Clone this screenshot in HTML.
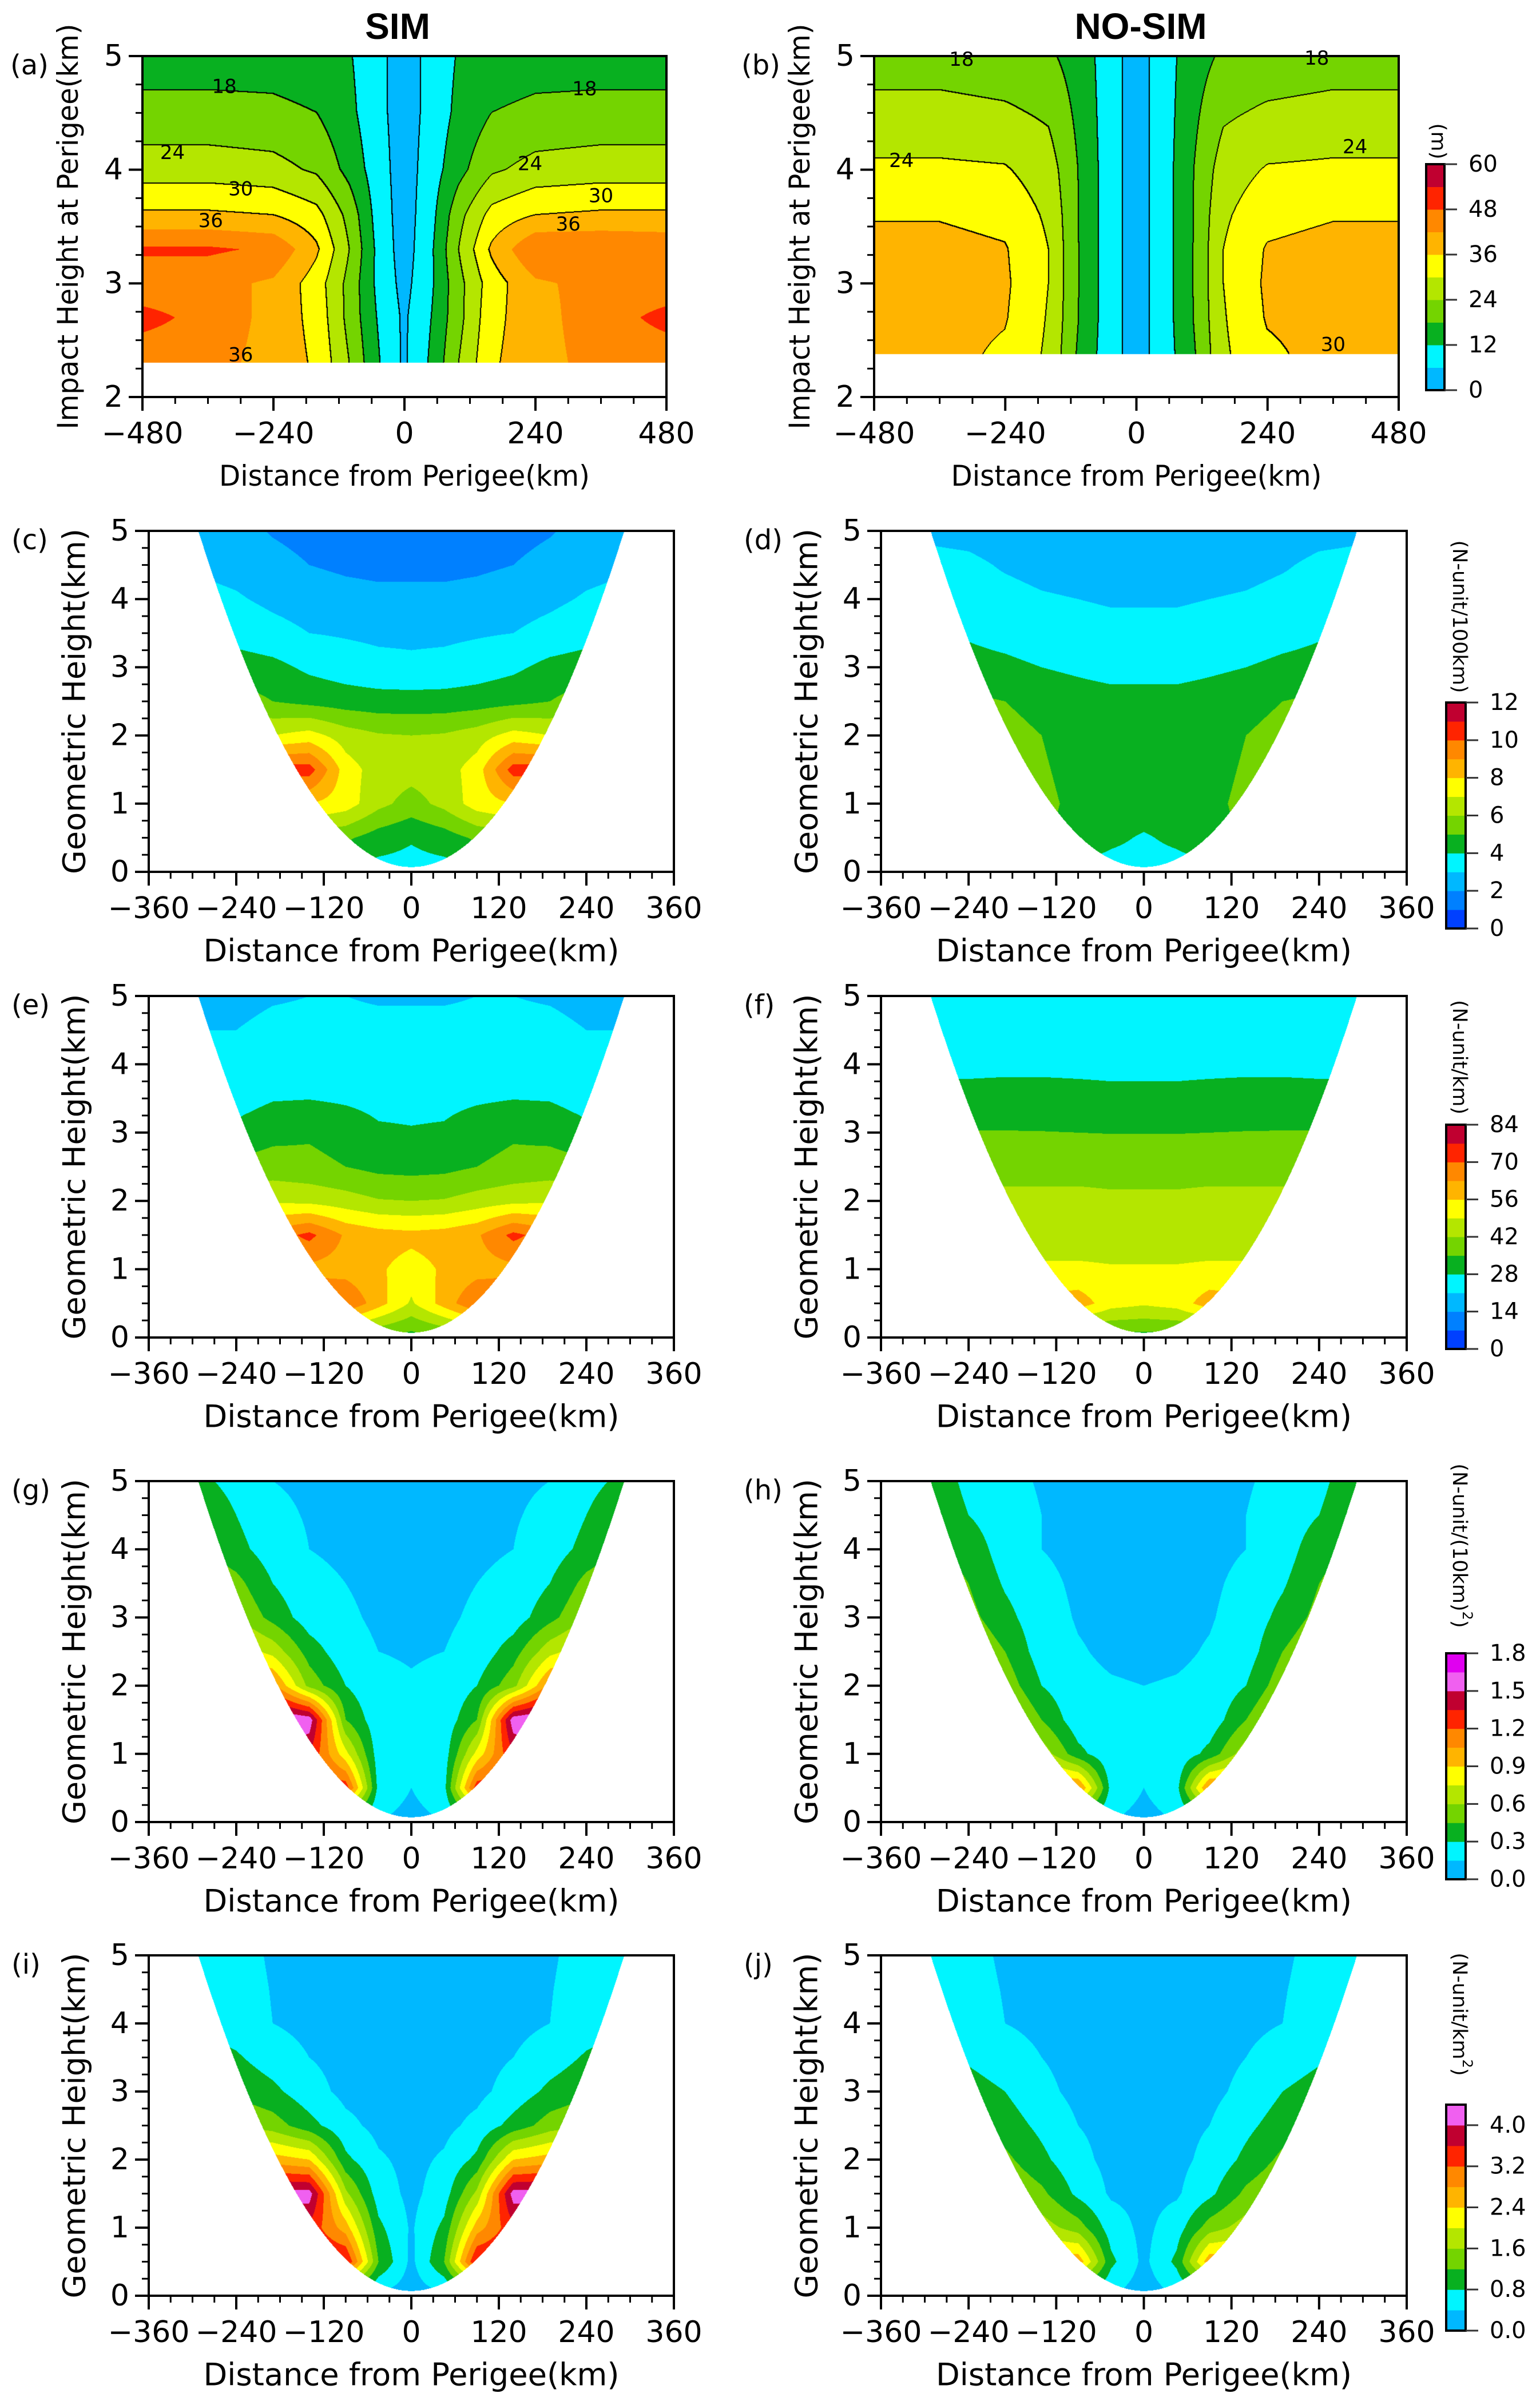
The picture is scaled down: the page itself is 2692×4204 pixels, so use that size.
<!DOCTYPE html>
<html><head><meta charset="utf-8">
<style>
html,body{margin:0;padding:0;background:#fff;}
#wrap{position:relative;width:2692px;height:4204px;overflow:hidden;background:#fff;}
canvas{position:absolute;}
svg{position:absolute;left:0;top:0;}
</style></head>
<body>
<div id="wrap">
<canvas id="cv-a"></canvas>
<canvas id="cv-b"></canvas>
<canvas id="cv-c"></canvas>
<canvas id="cv-d"></canvas>
<canvas id="cv-e"></canvas>
<canvas id="cv-f"></canvas>
<canvas id="cv-g"></canvas>
<canvas id="cv-h"></canvas>
<canvas id="cv-i"></canvas>
<canvas id="cv-j"></canvas>
<svg id="ov" width="2692" height="4204" xmlns="http://www.w3.org/2000/svg">
<text x="695" y="68" text-anchor="middle" font-family="Liberation Sans, sans-serif" font-weight="bold" font-size="64">SIM</text>
<text x="1994" y="68" text-anchor="middle" font-family="Liberation Sans, sans-serif" font-weight="bold" font-size="64">NO-SIM</text>
</svg>
</div>
<script>
// ---------- data (grid values) ----------
const xColsTop = [-480,-360,-240,-160,-100,-50,0,50,100,160,240,360,480];
const hRowsA = [5,4.5,4,3.6,3.3,3.0,2.7,2.3];
const hRowsB = [5,4.5,4,3.6,3.3,3.0,2.7,2.38];
const aField = [
 [15,15,15,14,12.5,8,3,8,12.5,14,15,15,15],
 [20,20,19.5,18,13.5,8,3,8,13.5,18,19.5,20,20],
 [27,27,26,23,16,9,3,9,16,23,26,27,27],
 [37,37,36,32,22,10,3,10,22,32,36,37,37],
 [49,49,47,37,24,11,3,11,24,37,48,48,47],
 [44,44,41,33,22,11,4,11,22,33,41,44,44],
 [50,46,40,34,22,12,5,12,22,34,40,45,50],
 [44,44,40,35,24,13,5,13,24,35,40,44,44]
];
const bField = [
 [21,21,20,19,15,9,3,9,15,19,20,21,21],
 [26,26,25,23,16,9,3,9,16,23,25,26,26],
 [31,31,30.5,27,17,9,3,9,17,27,30.5,31,31],
 [35.5,35.5,34,29,17,9,3,9,17,29,34,35.5,35.5],
 [38,38,36.5,30,17,9,3,9,17,30,36.5,38,38],
 [38,38,37,30,17,9,3,9,17,30,37,38,38],
 [38,38,36.5,29.5,17,9,3,9,17,29.5,36.5,38,38],
 [38,38,35,29,16,9,3,9,16,29,35,38,38]
];
const xColsGeo = [-300,-240,-190,-140,-90,-45,0,45,90,140,190,240,300];
const hRowsGeo = [5,4.5,4,3.5,3,2.5,2,1.5,1,0.5,0];
const cField = [
 [2.6,2.4,1.9,1.6,1.5,1.4,1.4,1.4,1.5,1.6,1.9,2.4,2.6],
 [2.9,2.7,2.4,2.0,1.8,1.7,1.7,1.7,1.8,2.0,2.4,2.7,2.9],
 [3.3,3.1,2.8,2.6,2.4,2.3,2.3,2.3,2.4,2.6,2.8,3.1,3.3],
 [3.8,3.6,3.3,3.0,2.9,2.8,2.8,2.8,2.9,3.0,3.3,3.6,3.8],
 [4.6,4.5,4.3,3.8,3.5,3.3,3.2,3.3,3.5,3.8,4.3,4.5,4.6],
 [5.6,5.5,5.0,4.7,4.5,4.4,4.4,4.4,4.5,4.7,5.0,5.5,5.6],
 [7.2,7.2,7.0,7.4,6.5,6.1,6.0,6.1,6.5,7.4,7.0,7.2,7.2],
 [10,10,10.5,10.5,7.5,6.5,6.4,6.5,7.5,10.5,10.5,10,10],
 [8.5,8.5,8.2,8.0,7.5,6.3,5.6,6.3,7.5,8.0,8.2,8.5,8.5],
 [6,6,5.8,5.5,5.2,4.5,4.1,4.5,5.2,5.5,5.8,6,6],
 [3.6,3.6,3.6,3.6,3.6,3.6,3.6,3.6,3.6,3.6,3.6,3.6,3.6]
];
const dField = [
 [2.8,2.7,2.5,2.4,2.3,2.2,2.2,2.2,2.3,2.4,2.5,2.7,2.8],
 [3.3,3.2,2.9,2.7,2.6,2.5,2.5,2.5,2.6,2.7,2.9,3.2,3.3],
 [3.5,3.4,3.3,3.1,3.0,2.9,2.9,2.9,3.0,3.1,3.3,3.4,3.5],
 [4.0,3.9,3.7,3.5,3.4,3.3,3.3,3.3,3.4,3.5,3.7,3.9,4.0],
 [4.4,4.3,4.2,4.0,3.8,3.6,3.6,3.6,3.8,4.0,4.2,4.3,4.4],
 [5.3,5.2,5.0,4.7,4.5,4.4,4.4,4.4,4.5,4.7,5.0,5.2,5.3],
 [5.4,5.4,5.3,5.0,4.6,4.5,4.5,4.5,4.6,5.0,5.3,5.4,5.4],
 [5.4,5.4,5.3,5.1,4.7,4.5,4.5,4.5,4.7,5.1,5.3,5.4,5.4],
 [5.4,5.4,5.3,5.2,4.8,4.5,4.5,4.5,4.8,5.2,5.3,5.4,5.4],
 [5.2,5.2,5.1,5.1,4.7,4.2,3.9,4.2,4.7,5.1,5.1,5.2,5.2],
 [3.6,3.6,3.6,3.6,3.6,3.6,3.6,3.6,3.6,3.6,3.6,3.6,3.6]
];
const eField = [
 [17,18,20,21,21,20,20,20,21,21,20,18,17],
 [21,21,23.5,23.5,23.5,23.5,23.5,23.5,23.5,23.5,23.5,21,21],
 [24,24,25,25,25,25,25,25,25,25,25,24,24],
 [25,25,27.5,27.8,27,26,26,26,27,27.8,27.5,25,25],
 [30,30,33,34,32,29,28.5,29,32,34,33,30,30],
 [37,37,38,37,35,33,32.5,33,35,37,38,37,37],
 [46,46,48,47,45,42.5,42,42.5,45,47,48,46,46],
 [66,66,66,72,62,59,58,59,62,72,66,66,66],
 [61,61,61,61,60,57,53,57,60,61,61,61,61],
 [70,70,70,70,70,59,48,59,70,70,70,70,70],
 [38,38,38,38,38,34,32,34,38,38,38,38,38]
];
const fField = [
 [23,23,23,23,23,23,23,23,23,23,23,23,23],
 [25,25,25,25,25,25,25,25,25,25,25,25,25],
 [26.5,26.5,26.5,26.5,26.5,26.5,26.5,26.5,26.5,26.5,26.5,26.5,26.5],
 [30,30,30.5,30.5,30,29.5,29.5,29.5,30,30.5,30.5,30,30],
 [35.3,35.3,35.3,35.2,35,34.8,34.8,34.8,35,35.2,35.3,35.3,35.3],
 [40,40,40,40,40,40,40,40,40,40,40,40,40],
 [43.5,43.5,43.5,43.5,43.5,43,43,43,43.5,43.5,43.5,43.5,43.5],
 [46,46,46,46,46,46,46,46,46,46,46,46,46],
 [50,50,50,50,50,49.5,49.5,49.5,50,50,50,50,50],
 [58,58,58,58,60,52,50,52,60,58,58,58,58],
 [32,32,32,32,32,32,32,32,32,32,32,32,32]
];
const gField = [
 [.35,.25,.15,.13,.12,.1,.1,.1,.12,.13,.15,.25,.35],
 [.45,.3,.18,.14,.12,.1,.1,.1,.12,.14,.18,.3,.45],
 [.5,.35,.22,.15,.13,.1,.1,.1,.13,.15,.22,.35,.5],
 [.6,.5,.3,.18,.15,.12,.11,.12,.15,.18,.3,.5,.6],
 [.7,.6,.4,.22,.17,.13,.12,.13,.17,.22,.4,.6,.7],
 [.9,.85,.7,.38,.2,.15,.14,.15,.2,.38,.7,.85,.9],
 [1.2,1.2,1.1,.55,.3,.18,.16,.18,.3,.55,1.1,1.2,1.2],
 [1.7,1.7,1.7,1.6,.45,.2,.17,.2,.45,1.6,1.7,1.7,1.7],
 [1.4,1.4,1.4,1.35,.8,.22,.17,.22,.8,1.35,1.4,1.4,1.4],
 [1.3,1.3,1.3,1.3,1.3,.25,.15,.25,1.3,1.3,1.3,1.3,1.3],
 [.2,.2,.2,.2,.2,.15,.1,.15,.2,.2,.2,.2,.2]
];
const hField = [
 [.45,.25,.18,.14,.12,.1,.1,.1,.12,.14,.18,.25,.45],
 [.48,.3,.2,.15,.12,.1,.1,.1,.12,.15,.2,.3,.48],
 [.5,.4,.22,.15,.12,.1,.1,.1,.12,.15,.22,.4,.5],
 [.55,.45,.28,.18,.13,.11,.1,.11,.13,.18,.28,.45,.55],
 [.6,.5,.35,.2,.14,.12,.1,.12,.14,.2,.35,.5,.6],
 [.65,.6,.45,.22,.16,.13,.12,.13,.16,.22,.45,.6,.65],
 [.7,.7,.55,.3,.18,.16,.15,.16,.18,.3,.55,.7,.7],
 [.75,.75,.7,.45,.2,.17,.16,.17,.2,.45,.7,.75,.75],
 [.85,.85,.85,.7,.35,.18,.17,.18,.35,.7,.85,.85,.85],
 [1.1,1.1,1.1,1.1,1.1,.25,.15,.25,1.1,1.1,1.1,1.1,1.1],
 [.2,.2,.2,.2,.2,.15,.1,.15,.2,.2,.2,.2,.2]
];
const iField = [
 [.7,.55,.35,.3,.25,.2,.2,.2,.25,.3,.35,.55,.7],
 [.75,.58,.38,.3,.25,.2,.2,.2,.25,.3,.38,.58,.75],
 [.8,.6,.4,.3,.25,.2,.2,.2,.25,.3,.4,.6,.8],
 [1.0,.85,.6,.4,.28,.22,.2,.22,.28,.4,.6,.85,1.0],
 [1.2,1.1,.9,.55,.3,.25,.2,.25,.3,.55,.9,1.1,1.2],
 [1.7,1.6,1.4,.95,.5,.3,.25,.3,.5,.95,1.4,1.6,1.7],
 [2.6,2.6,2.6,2.4,.9,.45,.3,.45,.9,2.4,2.6,2.6,2.6],
 [4.2,4.2,4.2,4.2,1.7,.6,.3,.6,1.7,4.2,4.2,4.2,4.2],
 [3.5,3.5,3.5,3.5,2.6,.9,.35,.9,2.6,3.5,3.5,3.5,3.5],
 [3.7,3.7,3.7,3.7,3.7,1.2,.3,1.2,3.7,3.7,3.7,3.7,3.7],
 [.4,.4,.4,.4,.4,.3,.2,.3,.4,.4,.4,.4,.4]
];
const jField = [
 [.6,.5,.35,.3,.25,.2,.2,.2,.25,.3,.35,.5,.6],
 [.65,.52,.38,.3,.25,.2,.2,.2,.25,.3,.38,.52,.65],
 [.7,.55,.4,.3,.25,.2,.2,.2,.25,.3,.4,.55,.7],
 [.85,.75,.6,.4,.28,.22,.2,.22,.28,.4,.6,.75,.85],
 [1.0,.95,.8,.5,.3,.25,.2,.25,.3,.5,.8,.95,1.0],
 [1.2,1.15,1.0,.7,.4,.3,.25,.3,.4,.7,1.0,1.15,1.2],
 [1.4,1.4,1.3,.9,.5,.3,.25,.3,.5,.9,1.3,1.4,1.4],
 [1.6,1.6,1.6,1.3,.7,.35,.3,.35,.7,1.3,1.6,1.6,1.6],
 [1.9,1.9,1.9,1.8,1.4,.6,.3,.6,1.4,1.8,1.9,1.9,1.9],
 [2.6,2.6,2.6,2.6,2.7,.9,.3,.9,2.7,2.6,2.6,2.6,2.6],
 [.5,.5,.5,.5,.5,.4,.2,.4,.5,.5,.5,.5,.5]
];
const xTicksTop = [-480,-240,0,240,480];
const xTicksGeo = [-360,-240,-120,0,120,240,360];
const yTicksTop = [2,3,4,5];
const yTicksGeo = [0,1,2,3,4,5];
const cbTicksA = ['0','12','24','36','48','60'];
const cbTicksC = ['0','2','4','6','8','10','12'];
const cbTicksE = ['0','14','28','42','56','70','84'];
const cbTicksG = ['0.0','0.3','0.6','0.9','1.2','1.5','1.8'];
const cbTicksI = ['0.0','0.8','1.6','2.4','3.2','4.0'];
const contourLevels = [6,12,18,24,30,36];
const aLabelVals = ['18','18','24','24','30','30','36','36','36'];
const aLabelX = [-330,330,-425,230,-300,360,-355,300,-300];
const aLabelH = [4.73,4.71,4.15,4.05,3.83,3.77,3.55,3.52,2.37];
const bLabelVals = ['18','18','24','24','30'];
const bLabelX = [-320,330,-430,400,360];
const bLabelH = [4.97,4.98,4.08,4.2,2.46];

const BASE = ['#0040ff','#0080ff','#00b8ff','#00f5ff','#08b020','#74d400','#b4e600','#ffff00','#ffb400','#ff8800','#ff2400','#c00030'];
const COL_A = BASE.slice(2);
const COL_G = BASE.slice(2).concat(['#f060f0','#e000f0']);
const COL_I = BASE.slice(2).concat(['#f060f0']);

// ---------- helpers ----------
const SVGNS = 'http://www.w3.org/2000/svg';
const ov = document.getElementById('ov');
function mk(tag, attrs, parent){
  const el = document.createElementNS(SVGNS, tag);
  for (const k in attrs) el.setAttribute(k, attrs[k]);
  (parent||ov).appendChild(el);
  return el;
}
function interp(xs, hs, F, x, h){
  let i = 0;
  if (x <= xs[0]) { i = 0; x = xs[0]; }
  else if (x >= xs[xs.length-1]) { i = xs.length-2; x = xs[xs.length-1]; }
  else { while (x > xs[i+1]) i++; }
  let j = 0;
  if (h >= hs[0]) { j = 0; h = hs[0]; }
  else if (h <= hs[hs.length-1]) { j = hs.length-2; h = hs[hs.length-1]; }
  else { while (h < hs[j+1]) j++; }
  const tx = (x - xs[i])/(xs[i+1]-xs[i]);
  const ty = (hs[j] - h)/(hs[j]-hs[j+1]);
  const v00 = F[j][i], v01 = F[j][i+1], v10 = F[j+1][i], v11 = F[j+1][i+1];
  return (v00*(1-tx)+v01*tx)*(1-ty) + (v10*(1-tx)+v11*tx)*ty;
}
function hex(c){ return [parseInt(c.substr(1,2),16),parseInt(c.substr(3,2),16),parseInt(c.substr(5,2),16)]; }
function parab(x){ return 0.07 + 4.93*(x/292)*(x/292); }

function renderField(p){
  const cv = document.getElementById(p.cv);
  const w = p.R - p.L, hgt = p.B - p.T;
  cv.width = w; cv.height = hgt;
  cv.style.left = p.L + 'px'; cv.style.top = p.T + 'px';
  const ctx = cv.getContext('2d');
  const img = ctx.createImageData(w, hgt);
  const idx = new Int16Array(w*hgt).fill(-1);
  const cols = p.colors.map(hex);
  const n = cols.length;
  for (let py = 0; py < hgt; py++){
    const hv = p.ymax - (py+0.5)/hgt*(p.ymax-p.ymin);
    for (let px = 0; px < w; px++){
      const xv = p.xmin + (px+0.5)/w*(p.xmax-p.xmin);
      const o = py*w+px;
      let inside = p.geo ? (hv >= parab(xv)) : (hv >= p.hmin);
      if (!inside){ img.data[o*4]=255;img.data[o*4+1]=255;img.data[o*4+2]=255;img.data[o*4+3]=255; continue; }
      const v = interp(p.xs, p.hs, p.F, xv, hv);
      let k = Math.floor((v - p.vmin)/p.step);
      if (k < 0) k = 0; if (k > n-1) k = n-1;
      idx[o] = k;
      const c = cols[k];
      img.data[o*4]=c[0];img.data[o*4+1]=c[1];img.data[o*4+2]=c[2];img.data[o*4+3]=255;
    }
  }
  if (p.lines){
    const lv = p.lines.map(l => (l - p.vmin)/p.step);
    for (let py = 0; py < hgt-2; py++){
      for (let px = 0; px < w-2; px++){
        const o = py*w+px, k1 = idx[o];
        if (k1 < 0) continue;
        const nb = [idx[o+2], idx[o+2*w]];
        let hit = false;
        for (const k2 of nb){
          if (k2 < 0 || k2 === k1) continue;
          for (const b of lv){ if ((k1 < b) !== (k2 < b)) { hit = true; break; } }
          if (hit) break;
        }
        if (hit){ img.data[o*4]=0;img.data[o*4+1]=0;img.data[o*4+2]=0; }
      }
    }
  }
  ctx.putImageData(img, 0, 0);
}

function drawAxes(p){
  const g = mk('g', {});
  
  
  const sx = v => p.L + (v - p.xmin)/(p.xmax-p.xmin)*(p.R-p.L);
  const sy = v => p.B - (v - p.ymin)/(p.ymax-p.ymin)*(p.B-p.T);
  for (let v = p.xmin; v <= p.xmax + 1e-6; v += p.xMinor){
    const t = mk('line', {x1:sx(v), x2:sx(v), y1:p.B, y2:p.B+12, stroke:'#000','stroke-width':3}, g);
    
    
  }
  for (let v = p.ymin; v <= p.ymax + 1e-6; v += p.yMinor){
    const t = mk('line', {x1:p.L-12, x2:p.L, y1:sy(v), y2:sy(v), stroke:'#000','stroke-width':3}, g);
    
    
  }
  p.xTicks.forEach(v => {
    const t = mk('line', {x1:sx(v), x2:sx(v), y1:p.B, y2:p.B+24, stroke:'#000','stroke-width':4}, g);
    
    
    const lab = mk('text', {x:sx(v), y:p.B+64, 'text-anchor':'middle','dominant-baseline':'central','font-family':'DejaVu Sans, sans-serif','font-size':p.tickFs}, g);
    lab.textContent = (v < 0 ? '\u2212' + (-v) : String(v));
    
    
  });
  p.yTicks.forEach(v => {
    const t = mk('line', {x1:p.L-24, x2:p.L, y1:sy(v), y2:sy(v), stroke:'#000','stroke-width':4}, g);
    
    
    const lab = mk('text', {x:p.L-34, y:sy(v), 'text-anchor':'end','dominant-baseline':'central','font-family':'DejaVu Sans, sans-serif','font-size':p.tickFs}, g);
    lab.textContent = String(v);
    
    
  });
  const fr = mk('rect', {x:p.L, y:p.T, width:p.R-p.L, height:p.B-p.T, fill:'none', stroke:'#000','stroke-width':4}, g);
  
  
  const xt = mk('text', {x:(p.L+p.R)/2, y:p.B+138, 'text-anchor':'middle','dominant-baseline':'central','font-family':'DejaVu Sans, sans-serif','font-size':p.titleFs, textLength:p.xTitleLen, lengthAdjust:'spacingAndGlyphs'}, g);
  xt.textContent = 'Distance from Perigee(km)';
  
  
  const yx = p.L - 130, yy = (p.T+p.B)/2;
  const yt = mk('text', {x:yx, y:yy, 'text-anchor':'middle','dominant-baseline':'central','font-family':'DejaVu Sans, sans-serif','font-size':p.titleFs, transform:'rotate(-90 '+yx+' '+yy+')', textLength:p.yTitleLen, lengthAdjust:'spacingAndGlyphs'}, g);
  yt.textContent = p.yTitle;
  
  
  const pl = mk('text', {x:p.labX, y:p.T+16, 'dominant-baseline':'central','font-family':'DejaVu Sans, sans-serif','font-size':48}, g);
  pl.textContent = '(' + p.id + ')';
  
  
  p.sx = sx; p.sy = sy;
}

function drawColorbar(cb){
  const g = mk('g', {});
  
  
  const n = cb.colors.length, bh = (cb.B - cb.T)/n;
  cb.colors.forEach((c, k) => {
    const r = mk('rect', {x:cb.L, y:cb.B-(k+1)*bh, width:cb.R-cb.L, height:bh+0.5, fill:c}, g);
    
    
  });
  const fr = mk('rect', {x:cb.L, y:cb.T, width:cb.R-cb.L, height:cb.B-cb.T, fill:'none', stroke:'#000','stroke-width':4}, g);
  
  
  cb.ticks.forEach(t => {
    const v = parseFloat(t);
    const y = cb.B - (v - cb.vmin)/(cb.vmax - cb.vmin)*(cb.B - cb.T);
    const ln = mk('line', {x1:cb.R, x2:cb.R+22, y1:y, y2:y, stroke:'#333','stroke-width':3}, g);
    
    
    const lab = mk('text', {x:cb.R+42, y:y, 'dominant-baseline':'central','font-family':'DejaVu Sans, sans-serif','font-size':cb.fs}, g);
    lab.textContent = t;
    
    
  });
  const ux = cb.ux, uy = cb.uy;
  const u = mk('text', {x:ux, y:uy, 'text-anchor':'middle','dominant-baseline':'central','font-family':'DejaVu Sans, sans-serif','font-size':cb.ufs, transform:'rotate(90 '+ux+' '+uy+')'}, g);
  u.innerHTML = cb.unit;
  
  
}

function drawLabels(p, vals, xs, hs){
  vals.forEach((t, k) => {
    const lab = mk('text', {x:p.sx(xs[k]), y:p.sy(hs[k]), 'text-anchor':'middle','dominant-baseline':'central','font-family':'DejaVu Sans, sans-serif','font-size':34, fill:'#000'});
    lab.textContent = t;
    
    
  });
}

// ---------- panels ----------
const rowsY = [[928,1524],[1741,2338],[2589,3185],[3418,4013]];
const panels = [
 {id:'a', cv:'cv-a', L:249, R:1165, T:98, B:694, xmin:-480, xmax:480, ymin:2, ymax:5, xs:xColsTop, hs:hRowsA, F:aField, hmin:2.3, colors:COL_A, vmin:0, step:6, lines:contourLevels, xTicks:xTicksTop, yTicks:yTicksTop, xMinor:60, yMinor:0.25, tickFs:52, titleFs:50, xTitleLen:648, yTitle:'Impact Height at Perigee(km)', yTitleLen:709, labX:18},
 {id:'b', cv:'cv-b', L:1528, R:2445, T:98, B:694, xmin:-480, xmax:480, ymin:2, ymax:5, xs:xColsTop, hs:hRowsB, F:bField, hmin:2.38, colors:COL_A, vmin:0, step:6, lines:contourLevels, xTicks:xTicksTop, yTicks:yTicksTop, xMinor:60, yMinor:0.25, tickFs:52, titleFs:50, xTitleLen:648, yTitle:'Impact Height at Perigee(km)', yTitleLen:709, labX:1296}
];
const geoSets = [
 ['c', cField, BASE, 0, 1], ['d', dField, BASE, 0, 1],
 ['e', eField, BASE, 0, 7], ['f', fField, BASE, 0, 7],
 ['g', gField, COL_G, 0, 0.15], ['h', hField, COL_G, 0, 0.15],
 ['i', iField, COL_I, 0, 0.4], ['j', jField, COL_I, 0, 0.4]
];
geoSets.forEach((s, k) => {
  const right = k % 2 === 1, row = rowsY[Math.floor(k/2)];
  panels.push({id:s[0], cv:'cv-'+s[0], L: right?1540:260, R: right?2459:1178, T:row[0], B:row[1], xmin:-360, xmax:360, ymin:0, ymax:5, xs:xColsGeo, hs:hRowsGeo, F:s[1], geo:true, colors:s[2], vmin:s[3], step:s[4], xTicks:xTicksGeo, yTicks:yTicksGeo, xMinor:30, yMinor:0.25, tickFs:52, titleFs:54, xTitleLen:727, yTitle:'Geometric Height(km)', yTitleLen:604, labX: right?1300:20});
});
panels.forEach(p => { renderField(p); drawAxes(p); });
drawLabels(panels[0], aLabelVals, aLabelX, aLabelH);
drawLabels(panels[1], bLabelVals, bLabelX, bLabelH);

const colorbars = [
 {id:'a', L:2493, R:2525, T:287, B:682, colors:COL_A, vmin:0, vmax:60, ticks:cbTicksA, fs:40, unit:'(m)', ufs:36, ux:2514, uy:247},
 {id:'d', L:2528, R:2562, T:1228, B:1623, colors:BASE, vmin:0, vmax:12, ticks:cbTicksC, fs:40, unit:'(N-unit/100km)', ufs:35, ux:2551, uy:1078},
 {id:'f', L:2528, R:2562, T:1966, B:2358, colors:BASE, vmin:0, vmax:84, ticks:cbTicksE, fs:40, unit:'(N-unit/km)', ufs:35, ux:2551, uy:1848},
 {id:'h', L:2528, R:2562, T:2890, B:3285, colors:COL_G, vmin:0, vmax:1.8, ticks:cbTicksG, fs:40, unit:'(N-unit/(10km)<tspan baseline-shift="super" font-size="24">2</tspan>)', ufs:35, ux:2551, uy:2702},
 {id:'j', L:2528, R:2562, T:3679, B:4074, colors:COL_I, vmin:0, vmax:4.4, ticks:cbTicksI, fs:40, unit:'(N-unit/km<tspan baseline-shift="super" font-size="24">2</tspan>)', ufs:35, ux:2551, uy:3521}
];
colorbars.forEach(drawColorbar);
</script>
</body></html>
